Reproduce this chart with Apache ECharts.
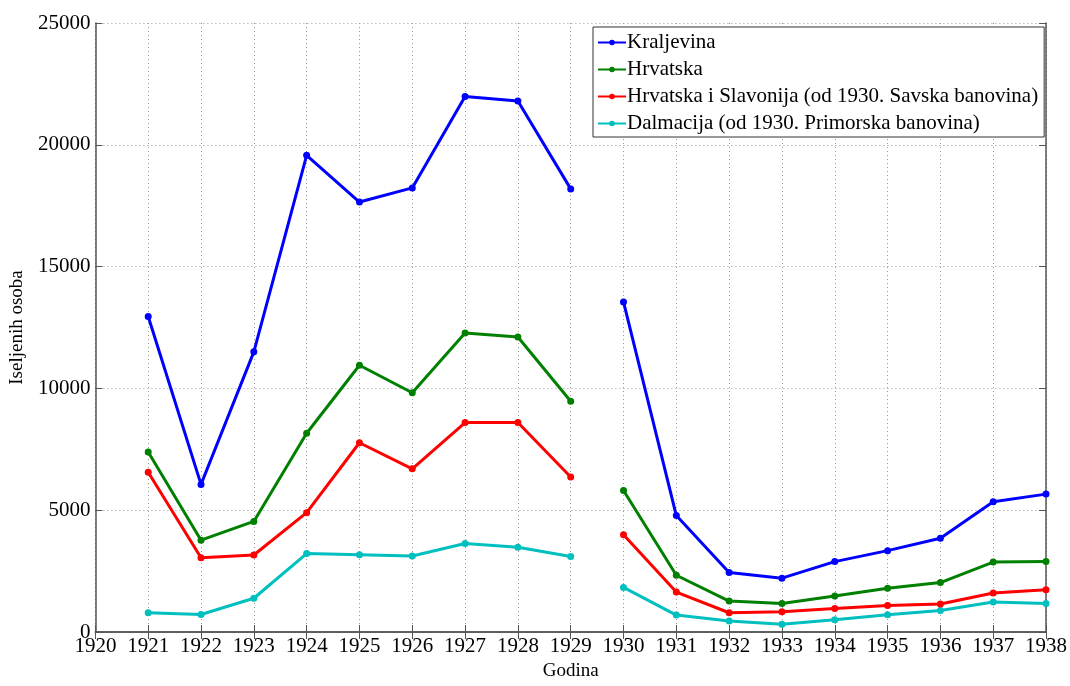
<!DOCTYPE html>
<html>
<head>
<meta charset="utf-8">
<script src="https://cdn.jsdelivr.net/npm/echarts@6/dist/echarts.min.js"></script>
<style>
html, body { margin: 0; padding: 0; background: #fff; }
#chart { width: 1070px; height: 686px; }
</style>
</head>
<body>
<div id="chart"></div>
<script>
var years = [1921, 1922, 1923, 1924, 1925, 1926, 1927, 1928, 1929, 1930, 1931, 1932, 1933, 1934, 1935, 1936, 1937, 1938];
var kraljevina = [12950, 6060, 11500, 19570, 17650, 18230, 21980, 21800, 18190, 13550, 4780, 2440, 2210, 2890, 3340, 3850, 5350, 5660];
var hrvatska = [7390, 3770, 4540, 8160, 10950, 9820, 12270, 12110, 9470, 5810, 2330, 1270, 1170, 1480, 1800, 2030, 2870, 2890];
var hrvSlavonija = [6560, 3050, 3160, 4900, 7770, 6700, 8600, 8600, 6360, 3990, 1640, 790, 830, 960, 1085, 1150, 1600, 1730];
var dalmacija = [790, 720, 1385, 3220, 3170, 3120, 3630, 3480, 3100, 1830, 695, 450, 320, 505, 710, 885, 1235, 1170];
var names = ['Kraljevina', 'Hrvatska', 'Hrvatska i Slavonija (od 1930. Savska banovina)', 'Dalmacija (od 1930. Primorska banovina)'];
var colors = ['#0000ff', '#008000', '#ff0000', '#00bfbf'];

// break the line between 1929 and 1930
function pairs(vals) {
	var out = [];
	for (var i = 0; i < years.length; i++) {
		if (years[i] == 1930) out.push([1929.5, '-']);
		out.push([years[i], vals[i]]);
	}
	return out;
}

var font = 'Liberation Serif';
var myChart = echarts.init(document.getElementById('chart'));
var makeSeries = function(idx, vals) {
	return {
		name: names[idx],
		type: 'line',
		data: pairs(vals),
		connectNulls: false,
		symbol: 'circle',
		symbolSize: 7,
		color: colors[idx],
		lineStyle: { width: 3, color: colors[idx] },
		itemStyle: { color: colors[idx] },
		z: 10 - idx
	};
};
var option = {
	animation: false,
	backgroundColor: '#fff',
	textStyle: { fontFamily: font },
	grid: {
		left: 91,
		right: 24,
		top: 23,
		bottom: 47
	},
	legend: {
		orient: 'vertical',
		left: 593,
		top: 27,
		align: 'left',
		backgroundColor: '#fff',
		borderColor: '#333',
		borderWidth: 1,
		borderRadius: 0,
		padding: [5, 6, 3, 4],
		itemGap: 6,
		itemWidth: 28,
		itemHeight: 7,
		textStyle: { fontFamily: font, fontSize: 21, color: '#000', padding: [0, 0, 0, -4] },
		data: names
	},
	xAxis: [{
		type: 'value',
		min: 1920,
		max: 1938,
		interval: 1,
		name: 'Godina',
		nameLocation: 'middle',
		nameGap: 30,
		nameTextStyle: { fontFamily: font, fontSize: 19, color: '#000' },
		axisLine: { show: true, onZero: false, lineStyle: { color: '#555', width: 1.5 } },
		axisTick: { show: true, inside: true, length: 7, lineStyle: { color: '#555' } },
		axisLabel: { fontFamily: font, fontSize: 21, color: '#000', margin: 4, formatter: function(v) { return String(v); } },
		splitLine: { show: true, lineStyle: { type: [1, 3], color: '#999', width: 1 } }
	}, {
		type: 'value',
		position: 'top',
		min: 1920,
		max: 1938,
		interval: 1,
		axisLine: { show: true, lineStyle: { color: '#555', width: 1.5 } },
		axisTick: { show: true, inside: true, length: 7, lineStyle: { color: '#555' } },
		axisLabel: { show: false },
		splitLine: { show: false }
	}],
	yAxis: [{
		type: 'value',
		min: 0,
		max: 25000,
		interval: 5000,
		name: 'Iseljenih osoba',
		nameLocation: 'middle',
		nameGap: 60,
		nameTextStyle: { fontFamily: font, fontSize: 19, color: '#000' },
		axisLine: { show: true, lineStyle: { color: '#555', width: 1.5 } },
		axisTick: { show: true, inside: true, length: 7, lineStyle: { color: '#555' } },
		axisLabel: { fontFamily: font, fontSize: 21, color: '#000', margin: 5, formatter: function(v) { return String(v); } },
		splitLine: { show: true, lineStyle: { type: [1, 3], color: '#999', width: 1 } }
	}, {
		type: 'value',
		position: 'right',
		min: 0,
		max: 25000,
		interval: 5000,
		axisLine: { show: true, lineStyle: { color: '#555', width: 1.5 } },
		axisTick: { show: true, inside: true, length: 7, lineStyle: { color: '#555' } },
		axisLabel: { show: false },
		splitLine: { show: false }
	}],
	series: [
		makeSeries(0, kraljevina),
		makeSeries(1, hrvatska),
		makeSeries(2, hrvSlavonija),
		makeSeries(3, dalmacija)
	]
};
myChart.setOption(option);
</script>
</body>
</html>
